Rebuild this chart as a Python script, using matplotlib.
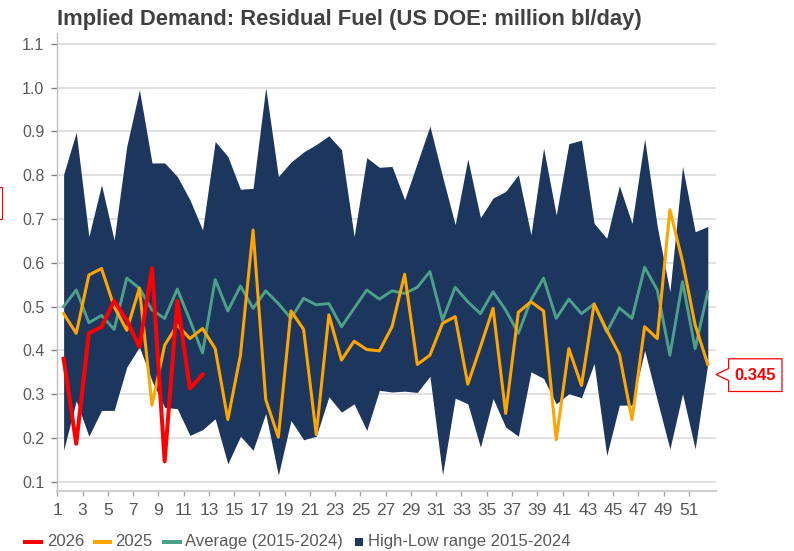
import matplotlib
matplotlib.use("Agg")
import matplotlib.pyplot as plt
from matplotlib.lines import Line2D
from matplotlib.patches import Polygon, Rectangle
from matplotlib.transforms import IdentityTransform

# Weekly values (million bl/day), weeks 1..52
weeks = list(range(1, 53))
range_high = [0.802, 0.898, 0.66, 0.778, 0.652, 0.866, 0.995, 0.828, 0.828, 0.797,
              0.744, 0.675, 0.877, 0.843, 0.768, 0.77, 1.0, 0.797, 0.83, 0.853,
              0.87, 0.89, 0.858, 0.66, 0.84, 0.818, 0.82, 0.744, 0.828, 0.912,
              0.797, 0.687, 0.837, 0.703, 0.748, 0.763, 0.801, 0.664, 0.862, 0.709,
              0.872, 0.88, 0.69, 0.656, 0.776, 0.69, 0.883, 0.683, 0.534, 0.82,
              0.671, 0.683]
range_low = [0.172, 0.285, 0.204, 0.263, 0.263, 0.362, 0.408, 0.33, 0.27, 0.267,
             0.206, 0.219, 0.244, 0.141, 0.204, 0.172, 0.256, 0.115, 0.24, 0.196,
             0.204, 0.294, 0.259, 0.278, 0.217, 0.309, 0.305, 0.307, 0.304, 0.341,
             0.116, 0.291, 0.278, 0.179, 0.29, 0.225, 0.204, 0.351, 0.336, 0.278,
             0.301, 0.292, 0.37, 0.16, 0.275, 0.275, 0.40, 0.286, 0.175, 0.301,
             0.175, 0.37]
average = [0.50, 0.538, 0.463, 0.48, 0.448, 0.565, 0.542, 0.492, 0.473, 0.54,
           0.469, 0.394, 0.562, 0.49, 0.547, 0.496, 0.536, 0.507, 0.473, 0.519,
           0.504, 0.507, 0.454, 0.496, 0.538, 0.517, 0.536, 0.530, 0.544, 0.58,
           0.469, 0.544, 0.511, 0.484, 0.534, 0.492, 0.439, 0.515, 0.565, 0.473,
           0.517, 0.484, 0.506, 0.442, 0.497, 0.473, 0.59, 0.538, 0.389, 0.557,
           0.404, 0.534]
y2025 = [0.484, 0.439, 0.572, 0.587, 0.50, 0.446, 0.542, 0.275, 0.412, 0.458,
         0.427, 0.45, 0.404, 0.242, 0.389, 0.675, 0.288, 0.202, 0.49, 0.448,
         0.208, 0.481, 0.378, 0.421, 0.402, 0.399, 0.454, 0.574, 0.368, 0.389,
         0.462, 0.477, 0.323, 0.408, 0.496, 0.256, 0.487, 0.511, 0.49, 0.196,
         0.404, 0.32, 0.506, 0.446, 0.391, 0.242, 0.454, 0.427, 0.721, 0.603,
         0.458, 0.368]
y2026 = [0.381, 0.187, 0.439, 0.454, 0.513, 0.469, 0.408, 0.587, 0.147, 0.513,
         0.313, 0.345]

x_ticks = list(range(1, 52, 2))
y_ticks = [0.1, 0.2, 0.3, 0.4, 0.5, 0.6, 0.7, 0.8, 0.9, 1.0, 1.1]

TITLE = "Implied Demand: Residual Fuel (US DOE: million bl/day)"
LEGEND_LABELS = ["2026", "2025", "Average (2015-2024)", "High-Low range 2015-2024"]

NAVY = "#1C365D"
ORANGE = "#FFA500"
GREEN = "#4FA08A"
RED = "#FF0000"
TEXT_GRAY = "#595959"

plt.rcParams['font.family'] = ['Liberation Sans', 'DejaVu Sans']
NARROW = ['Liberation Sans Narrow', 'Liberation Sans', 'DejaVu Sans']

W, H = 794, 551
fig = plt.figure(figsize=(W / 100, H / 100), dpi=100)
ax = fig.add_axes([57.3 / W, 1 - 491 / H, (716 - 57.3) / W, (491 - 33.3) / H])

# points sit in the middle of each week slot
xs = [w + 0.5 for w in weeks]
xs26 = [w + 0.5 for w in weeks[:len(y2026)]]

ax.fill_between(xs, range_low, range_high, color=NAVY, linewidth=0, zorder=2)
ax.plot(xs, average, color=GREEN, linewidth=2.1, zorder=3)
ax.plot(xs, y2025, color=ORANGE, linewidth=2.2, zorder=4)
ax.plot(xs26, y2026, color=RED, linewidth=2.9, zorder=5)

ax.set_xlim(1, 53.15)
ax.set_ylim(0.079, 1.124)

ax.set_yticks(y_ticks)
ax.set_yticklabels([f"{v:.1f}" for v in y_ticks])
ax.set_xticks(x_ticks)
ax.set_xticklabels([str(t) for t in x_ticks], family=NARROW)

ax.grid(axis='y', color='#D9D9D9', linewidth=1.1, zorder=0)
ax.set_axisbelow(True)

for s in ['top', 'right']:
    ax.spines[s].set_visible(False)
ax.spines['left'].set_color('#BFBFBF')
ax.spines['left'].set_linewidth(1.0)
ax.spines['bottom'].set_color('#D0D0D0')
ax.spines['bottom'].set_linewidth(1.6)

ax.tick_params(axis='y', direction='out', length=4.3, width=1.0, color='#7F7F7F',
               labelsize=11.5, labelcolor=TEXT_GRAY, pad=5)
ax.tick_params(axis='x', direction='out', length=3.8, width=1.0, color='#A6A6A6',
               labelsize=12.5, labelcolor=TEXT_GRAY, pad=5)

fig.text(57 / W, 1 - 19 / H, TITLE, fontsize=15.8, fontweight='bold',
         color='#404040', ha='left', va='center')

# legend drawn by hand: (handle start px, handle end px, text start px)
leg_y = H - 541.7
leg_slots = [(23.3, 43.3, 46.7), (93, 112, 115), (162, 182, 185)]
leg_colors = [RED, ORANGE, GREEN]
for (x0, x1, xt), col, lab in zip(leg_slots, leg_colors, LEGEND_LABELS[:3]):
    fig.add_artist(Line2D([x0, x1], [leg_y, leg_y], color=col, linewidth=2.9,
                          solid_capstyle='butt', transform=IdentityTransform()))
    fig.text(xt / W, leg_y / H, lab, fontsize=12, color=TEXT_GRAY,
             ha='left', va='center')
fig.add_artist(Rectangle((355, leg_y - 4), 8, 8, facecolor=NAVY, edgecolor='none',
                         transform=IdentityTransform()))
fig.text(368 / W, leg_y / H, LEGEND_LABELS[3], fontsize=12, color=TEXT_GRAY,
         ha='left', va='center')

# callout with latest 2026 value
fig.canvas.draw()
last_val = y2026[-1]
tx = ax.transAxes.transform((1.0, 0))[0]
ty = ax.transData.transform((xs26[-1], last_val))[1]
verts = [(tx, ty), (tx + 12.6, ty - 6), (tx + 12.6, ty - 17), (tx + 66, ty - 17),
         (tx + 66, ty + 15.7), (tx + 12.6, ty + 15.7), (tx + 12.6, ty + 6)]
fig.add_artist(Polygon(verts, closed=True, facecolor='white', edgecolor=RED,
                       linewidth=0.9, transform=IdentityTransform()))
fig.text((tx + 39.3) / W, (ty - 0.6) / H, f"{last_val:.3f}", fontsize=12,
         fontweight='bold', color=RED, ha='center', va='center')

# clipped callout box at the left edge
fig.add_artist(Rectangle((-60, H - 219), 61.7, 32, facecolor='none', edgecolor=RED,
                         linewidth=0.8, transform=IdentityTransform()))

fig.savefig("out.png", dpi=100)
